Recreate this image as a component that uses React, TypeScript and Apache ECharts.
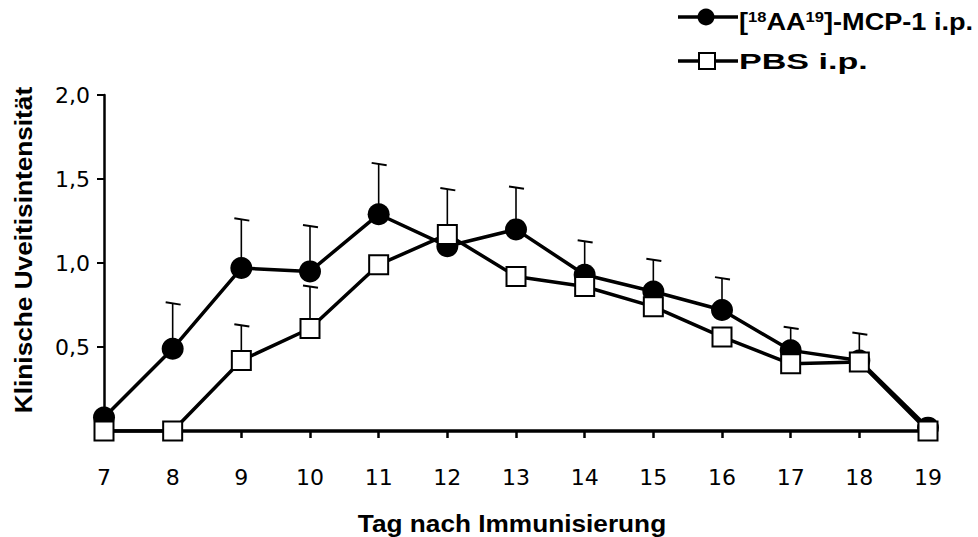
import React, { useEffect, useRef } from "react";
import * as echarts from "echarts";

const xCategories = ["7", "8", "9", "10", "11", "12", "13", "14", "15", "16", "17", "18", "19"];
const mcpMean = [0.08, 0.49, 0.97, 0.95, 1.29, 1.1, 1.2, 0.93, 0.83, 0.72, 0.48, 0.42, 0.02];
const mcpSem = [null, 0.27, 0.29, 0.27, 0.3, null, 0.25, 0.2, 0.19, 0.19, 0.135, null, null];
const pbsMean = [0, 0, 0.42, 0.61, 0.99, 1.17, 0.92, 0.86, 0.74, 0.56, 0.4, 0.41, 0];
const pbsSem = [null, null, 0.21, 0.25, null, 0.27, null, null, null, null, null, 0.17, null];
const yTickLabels = ["", "0,5", "1,0", "1,5", "2,0"];

const legendMcp = "[{sup|18}AA{sup|19}]-MCP-1 i.p.";
const legendPbs = "PBS i.p.";
const xTitle = "Tag nach Immunisierung";
const yTitle = "Klinische Uveitisintensität";

const FONT = 'Arial, "Liberation Sans", sans-serif';
const TICK_FONT = '"DejaVu Sans", Arial, sans-serif';

function errData(mean: number[], sem: (number | null)[]) {
  const out: number[][] = [];
  mean.forEach((m, i) => {
    const s = sem[i];
    if (s != null) out.push([i, m, m + s]);
  });
  return out;
}

const renderErr = (params: any, api: any) => {
  const i = api.value(0);
  const p0 = api.coord([i, api.value(1)]);
  const p1 = api.coord([i, api.value(2)]);
  return {
    type: "group",
    children: [
      {
        type: "line",
        shape: { x1: p0[0], y1: p0[1], x2: p1[0], y2: p1[1] },
        style: { stroke: "#000", lineWidth: 1.6 },
      },
      {
        type: "line",
        shape: { x1: p1[0] - 7, y1: p1[1] - 1, x2: p1[0] + 8, y2: p1[1] + 1.3 },
        style: { stroke: "#000", lineWidth: 2 },
      },
    ],
  };
};

export default function App() {
  const ref = useRef<HTMLDivElement>(null);
  useEffect(() => {
    if (!ref.current) return;
    const chart = echarts.init(ref.current, null, { renderer: "svg" });
    chart.setOption({
      animation: false,
      backgroundColor: "#fff",
      grid: { left: 104, right: 50, top: 95, bottom: 106, outerBoundsMode: "none" },
      xAxis: {
        type: "category",
        data: xCategories,
        boundaryGap: false,
        axisLine: { lineStyle: { color: "#000", width: 3.5 } },
        axisTick: { show: true, length: 7, lineStyle: { color: "#000", width: 2.5 } },
        axisLabel: { color: "#000", fontSize: 22, fontFamily: TICK_FONT, margin: 35 },
        splitLine: { show: false },
      },
      yAxis: {
        type: "value",
        min: 0,
        max: 2,
        interval: 0.5,
        axisLine: { show: true, lineStyle: { color: "#000", width: 2.5 } },
        axisTick: { show: true, length: 7, lineStyle: { color: "#000", width: 2 } },
        axisLabel: {
          color: "#000",
          fontSize: 22,
          fontFamily: TICK_FONT,
          margin: 14,
          formatter: (_v: number, idx: number) => yTickLabels[idx] ?? "",
        },
        splitLine: { show: false },
      },
      series: [
        {
          type: "custom",
          name: "err-mcp",
          renderItem: renderErr,
          data: errData(mcpMean, mcpSem),
          encode: { x: 0, y: [1, 2] },
          z: 1,
          silent: true,
        },
        {
          type: "custom",
          name: "err-pbs",
          renderItem: renderErr,
          data: errData(pbsMean, pbsSem),
          encode: { x: 0, y: [1, 2] },
          z: 1,
          silent: true,
        },
        {
          type: "line",
          name: "MCP",
          data: mcpMean,
          symbol: "circle",
          symbolSize: 22,
          itemStyle: { color: "#000" },
          lineStyle: { color: "#000", width: 3.5 },
          z: 2,
        },
        {
          type: "line",
          name: "PBS",
          data: pbsMean,
          symbol: "rect",
          symbolSize: 19,
          itemStyle: { color: "#fff", borderColor: "#000", borderWidth: 2 },
          lineStyle: { color: "#000", width: 3.5 },
          z: 3,
        },
      ],
      graphic: [
        {
          type: "line",
          shape: { x1: 678, y1: 17, x2: 738, y2: 17 },
          style: { stroke: "#000", lineWidth: 3.5 },
        },
        {
          type: "circle",
          shape: { cx: 706, cy: 17, r: 8.5 },
          style: { fill: "#000" },
        },
        {
          type: "text",
          x: 739,
          y: 22,
          scaleX: 1.18,
          style: {
            text: legendMcp,
            fill: "#000",
            font: `bold 23px ${FONT}`,
            align: "left",
            verticalAlign: "middle",
            textAlign: "left",
            textVerticalAlign: "middle",
            rich: {
              sup: {
                fontSize: 14,
                fontWeight: "bold",
                fontFamily: FONT,
                fill: "#000",
                verticalAlign: "top",
                padding: [0, 0, 10, 0],
              },
            },
          },
        },
        {
          type: "line",
          shape: { x1: 678, y1: 61, x2: 738, y2: 61 },
          style: { stroke: "#000", lineWidth: 3.5 },
        },
        {
          type: "rect",
          shape: { x: 699, y: 53, width: 16, height: 16 },
          style: { fill: "#fff", stroke: "#000", lineWidth: 2 },
        },
        {
          type: "text",
          x: 739,
          y: 61,
          scaleX: 1.55,
          style: {
            text: legendPbs,
            fill: "#000",
            font: `bold 22px ${FONT}`,
            align: "left",
            verticalAlign: "middle",
            textAlign: "left",
            textVerticalAlign: "middle",
          },
        },
        {
          type: "text",
          x: 512,
          y: 524,
          scaleX: 1.14,
          style: {
            text: xTitle,
            fill: "#000",
            font: `bold 23px ${FONT}`,
            align: "center",
            verticalAlign: "middle",
            textAlign: "center",
            textVerticalAlign: "middle",
          },
        },
        {
          type: "text",
          x: 24,
          y: 250,
          rotation: Math.PI / 2,
          scaleX: 1.14,
          style: {
            text: yTitle,
            fill: "#000",
            font: `bold 23px ${FONT}`,
            align: "center",
            verticalAlign: "middle",
            textAlign: "center",
            textVerticalAlign: "middle",
          },
        },
      ],
    });
    return () => chart.dispose();
  }, []);
  return (
    <div
      ref={ref}
      style={{ position: "fixed", left: 0, top: 0, width: 978, height: 537, background: "#fff" }}
    />
  );
}
